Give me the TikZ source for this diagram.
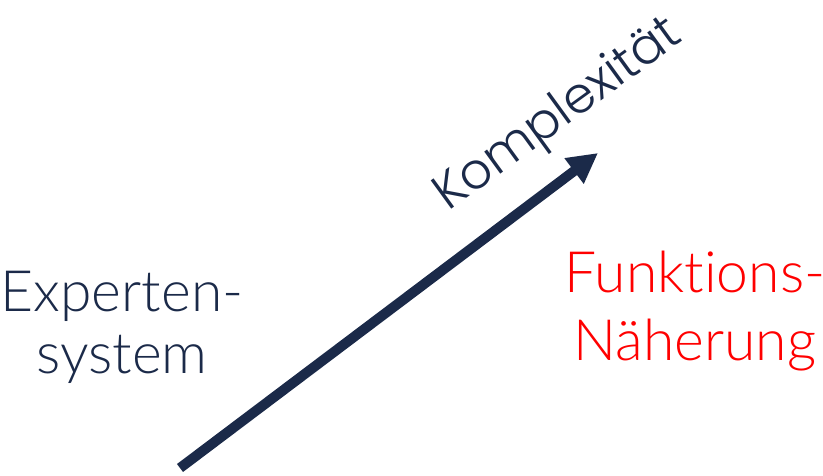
\documentclass[tikz,border=0pt]{standalone}
\usepackage{fontspec}
\setmainfont{Lato Light}[Ligatures={NoCommon,NoContextual}]
\newfontfamily\geofont{Poppins Light}
\usepackage{tikz}
\usetikzlibrary{arrows.meta}
\definecolor{navy}{HTML}{1B2A49}

\begin{document}
\begin{tikzpicture}[x=1pt,y=-1pt,
    kxlabel/.style={align=center,inner sep=0pt,font=\fontsize{57}{62}\selectfont},
    kxarrow/.style={-{Triangle[length=30pt,width=30pt]},draw=navy,line width=10pt}
]
\useasboundingbox (0,0) rectangle (823,476);
\coordinate (start) at (180,468);
\coordinate (tip) at (598,153);
\draw[kxarrow] (start)--(tip);
\node[rotate=36,anchor=base west,inner sep=0pt,text=navy,
    font=\geofont\fontsize{50}{54}\selectfont] (axis) at (448,212) {Komplexität};
\node[kxlabel,text=navy,anchor=base] (expert) at (122,373) {Experten-\\system};
\node[kxlabel,text=red,anchor=base,font=\fontsize{57}{68}\selectfont] (approx) at (695,360) {Funktions-\\Näherung};
\end{tikzpicture}
\end{document}
